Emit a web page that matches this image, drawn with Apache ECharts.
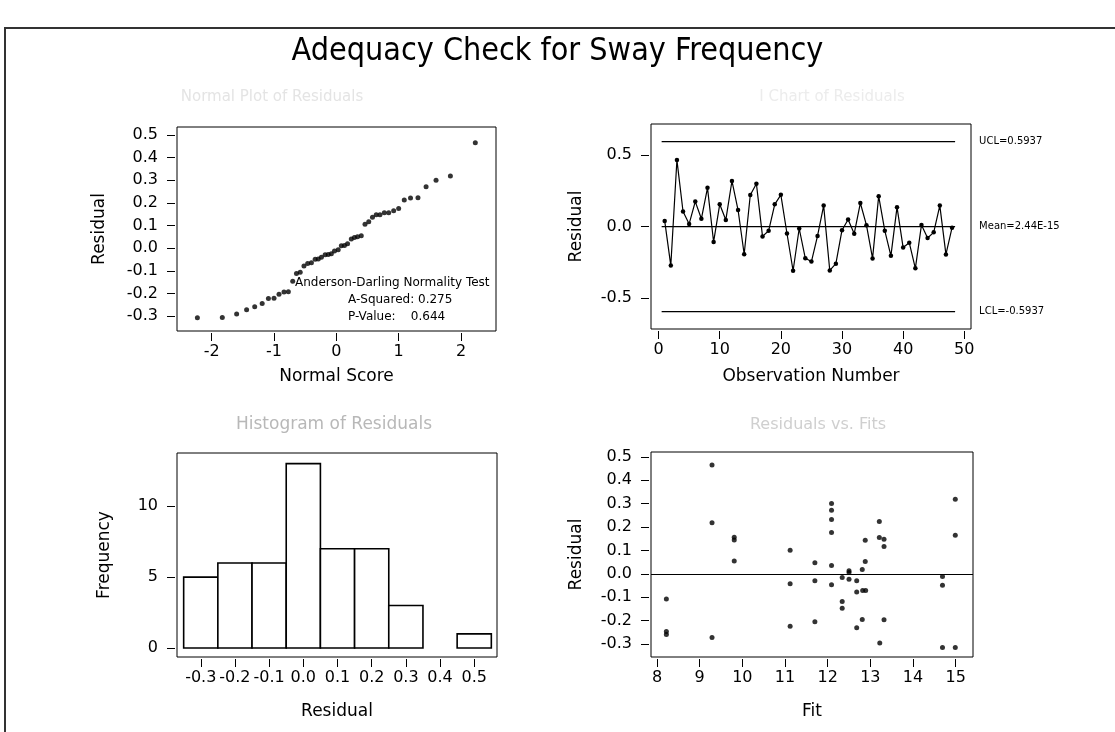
<!DOCTYPE html>
<html>
<head>
<meta charset="utf-8">
<script src="https://cdn.jsdelivr.net/npm/echarts@6/dist/echarts.min.js"></script>
<style>
html,body{margin:0;padding:0;background:#fff;}
#chart{width:1115px;height:732px;}
</style>
</head>
<body>
<div id="chart"></div>
<script>
// ---------- DATA ----------
const chartTitle = 'Adequacy Check for Sway Frequency';

// Normal probability plot
const normalScore = [-2.23,-1.83,-1.60,-1.44,-1.31,-1.19,-1.09,-1.00,-0.92,-0.84,-0.77,-0.70,-0.64,-0.58,-0.52,-0.46,-0.40,-0.34,-0.29,-0.24,-0.18,-0.13,-0.08,-0.03,
                     0.03,0.08,0.13,0.18,0.24,0.29,0.34,0.40,0.46,0.52,0.58,0.64,0.70,0.77,0.84,0.92,1.00,1.09,1.19,1.31,1.44,1.60,1.83,2.23];
const sortedResidual = [-0.308,-0.306,-0.291,-0.272,-0.259,-0.244,-0.222,-0.221,-0.204,-0.194,-0.193,-0.146,-0.112,-0.107,-0.079,-0.068,-0.065,-0.049,-0.048,-0.040,-0.029,-0.028,-0.025,-0.013,
                        -0.007,0.010,0.012,0.019,0.040,0.047,0.050,0.055,0.106,0.116,0.136,0.147,0.147,0.156,0.156,0.165,0.175,0.213,0.221,0.222,0.271,0.300,0.319,0.465];
const normalTicksX = [-2,-1,0,1,2];
const residualTicks = [-0.3,-0.2,-0.1,0.0,0.1,0.2,0.3,0.4,0.5];

// I chart of residuals (observation order)
const obsResidual = [0.040,-0.272,0.465,0.106,0.019,0.175,0.055,0.271,-0.107,0.156,0.047,0.319,0.116,-0.193,0.221,0.300,
                     -0.068,-0.029,0.156,0.222,-0.048,-0.308,-0.013,-0.221,-0.244,-0.065,0.147,-0.306,-0.259,-0.025,0.050,-0.049,
                     0.165,0.010,-0.222,0.213,-0.028,-0.204,0.136,-0.146,-0.112,-0.291,0.012,-0.079,-0.040,0.147,-0.194,-0.007];
const ucl = 0.5937, centerMean = 2.44e-15, lcl = -0.5937;
const limitSpan = [0.5, 48.5];
const obsTicksX = [0,10,20,30,40,50];
const iChartTicksY = [-0.5,0.0,0.5];

// Histogram of residuals
const binCenters = [-0.3,-0.2,-0.1,0.0,0.1,0.2,0.3,0.4,0.5];
const binCounts  = [5,6,6,13,7,7,3,0,1];
const binWidth = 0.1;
const freqTicks = [0,5,10];

// Residuals vs fits
const fitValues = [8.22,8.22,8.22, 9.29,9.29,9.29, 9.81,9.81,9.81, 11.12,11.12,11.12, 11.70,11.70,11.70,
                   12.09,12.09,12.09,12.09,12.09,12.09, 12.34,12.34,12.34, 12.50,12.50,12.50, 12.68,12.68,12.68,
                   12.81,12.81,12.82,12.89, 12.88,12.88, 13.21,13.21,13.22, 13.32,13.32,13.32,
                   14.69,14.69,14.69, 14.99,14.99,14.99];
const fitResiduals = [-0.107,-0.246,-0.259, 0.465,0.218,-0.272, 0.156,0.145,0.055, 0.101,-0.042,-0.224, 0.048,-0.030,-0.205,
                      0.301,0.272,0.232,0.177,0.036,-0.047, -0.016,-0.118,-0.147, 0.013,0.006,-0.023, -0.030,-0.078,-0.230,
                      0.019,-0.195,-0.071,-0.071, 0.144,0.053, 0.224,0.155,-0.296, 0.148,0.117,-0.196,
                      -0.011,-0.049,-0.315, 0.319,0.165,-0.315];
const fitTicksX = [8,9,10,11,12,13,14,15];

// ---------- CHART ----------
const FONT = 'DejaVu Sans';
const chart = echarts.init(document.getElementById('chart'), null, {renderer:'canvas'});

function axisBase(gridIndex, min, max, ticks, fmt, extra, labelMargin) {
  return Object.assign({
    type:'value', gridIndex, min, max, offset:2,
    axisLine:{show:false, onZero:false},
    splitLine:{show:false},
    axisTick:{show:true, length:8, customValues:ticks, lineStyle:{color:'#000', width:1}},
    axisLabel:{show:true, customValues:ticks, formatter:fmt, margin:labelMargin, color:'#000', fontSize:16, fontFamily:FONT},
    nameLocation:'middle', nameTextStyle:{color:'#000', fontSize:17, fontFamily:FONT}
  }, extra || {});
}
const f1 = v => Number(v).toFixed(1);
const f0 = v => String(Math.round(v));

const gridStyle = {show:true, borderColor:'#000', borderWidth:1, backgroundColor:'rgba(0,0,0,0)', containLabel:false, outerBoundsMode:'none'};

const option = {
  backgroundColor:'#fff',
  animation:false,
  title:{text:chartTitle, left:'center', top:31, textStyle:{fontSize:32, fontWeight:'normal', color:'#000', fontFamily:'DejaVu Sans Condensed, DejaVu Sans'}},
  grid:[
    Object.assign({left:177, top:127, width:319, height:204}, gridStyle),
    Object.assign({left:651, top:124, width:320, height:205}, gridStyle),
    Object.assign({left:177, top:453, width:320, height:204}, gridStyle),
    Object.assign({left:651, top:452, width:322, height:205}, gridStyle)
  ],
  xAxis:[
    axisBase(0, -2.557, 2.562, normalTicksX, f0, {name:'Normal Score', nameGap:35}, 11),
    axisBase(1, -1.24, 51.1, obsTicksX, f0, {name:'Observation Number', nameGap:37}, 11),
    axisBase(2, -0.3695, 0.5666, residualTicks, f1, {name:'Residual', nameGap:44}, 11),
    axisBase(3, 7.86, 15.405, fitTicksX, f0, {name:'Fit', nameGap:44}, 11)
  ],
  yAxis:[
    axisBase(0, -0.366, 0.535, residualTicks, f1, {name:'Residual', nameGap:67}, 17),
    axisBase(1, -0.715, 0.717, iChartTicksY, f1, {name:'Residual', nameGap:64}, 17),
    axisBase(2, -0.63, 13.75, freqTicks, f0, {name:'Frequency', nameGap:62}, 17),
    axisBase(3, -0.3555, 0.521, residualTicks, f1, {name:'Residual', nameGap:64}, 17)
  ],
  series:[
    {
      type:'scatter', xAxisIndex:0, yAxisIndex:0,
      data: normalScore.map((x,i)=>[x, sortedResidual[i]]),
      symbol:'circle', symbolSize:5, itemStyle:{color:'#000'}
    },
    {
      type:'line', xAxisIndex:1, yAxisIndex:1,
      data: obsResidual.map((y,i)=>[i+1, y]),
      symbol:'circle', symbolSize:4.5, showSymbol:true,
      lineStyle:{color:'#000', width:1.2}, itemStyle:{color:'#000'}
    },
    {
      type:'line', xAxisIndex:1, yAxisIndex:1, symbol:'none',
      data: limitSpan.map(x=>[x, ucl]), lineStyle:{color:'#000', width:1.2},
      endLabel:{show:true, formatter:'UCL=' + ucl, distance:24, color:'#000', fontSize:10, fontFamily:FONT}
    },
    {
      type:'line', xAxisIndex:1, yAxisIndex:1, symbol:'none',
      data: limitSpan.map(x=>[x, centerMean]), lineStyle:{color:'#000', width:1.2},
      endLabel:{show:true, formatter:'Mean=2.44E-15', distance:24, color:'#000', fontSize:10, fontFamily:FONT}
    },
    {
      type:'line', xAxisIndex:1, yAxisIndex:1, symbol:'none',
      data: limitSpan.map(x=>[x, lcl]), lineStyle:{color:'#000', width:1.2},
      endLabel:{show:true, formatter:'LCL=' + lcl, distance:24, color:'#000', fontSize:10, fontFamily:FONT}
    },
    {
      type:'custom', xAxisIndex:2, yAxisIndex:2,
      data: binCenters.map((c,i)=>[c, binCounts[i]]),
      renderItem:function(params, api){
        const c = api.value(0), n = api.value(1);
        if (!n) return null;
        const p0 = api.coord([c - binWidth/2, n]);
        const p1 = api.coord([c + binWidth/2, 0]);
        return {type:'rect', shape:{x:p0[0], y:p0[1], width:p1[0]-p0[0], height:p1[1]-p0[1]},
                style:{fill:'#fff', stroke:'#000', lineWidth:1.6}};
      }
    },
    {
      type:'scatter', xAxisIndex:3, yAxisIndex:3,
      data: fitValues.map((x,i)=>[x, fitResiduals[i]]),
      symbol:'circle', symbolSize:5, itemStyle:{color:'#000'},
      markLine:{silent:true, symbol:['none','none'], label:{show:false},
                lineStyle:{color:'#000', width:1.2, type:'solid'}, data:[{yAxis:0}]}
    }
  ],
  graphic:[
    {type:'polyline', shape:{points:[[5,740],[5,28],[1115,28]]}, style:{stroke:'#333', lineWidth:2, fill:null}},
    {type:'text', left:295, top:277, style:{text:'Anderson-Darling Normality Test', fill:'#000', font:'12px "DejaVu Sans"'}},
    {type:'text', left:348, top:294, style:{text:'A-Squared: 0.275', fill:'#000', font:'12px "DejaVu Sans"'}},
    {type:'text', left:348, top:311, style:{text:'P-Value:    0.644', fill:'#000', font:'12px "DejaVu Sans"'}},
    {type:'text', x:272, y:97, style:{text:'Normal Plot of Residuals', fill:'#e4e4e4', font:'15px "DejaVu Sans"', align:'center', verticalAlign:'middle'}},
    {type:'text', x:832, y:97, style:{text:'I Chart of Residuals', fill:'#ececec', font:'15px "DejaVu Sans"', align:'center', verticalAlign:'middle'}},
    {type:'text', x:334, y:425, style:{text:'Histogram of Residuals', fill:'#b8b8b8', font:'17px "DejaVu Sans"', align:'center', verticalAlign:'middle'}},
    {type:'text', x:818, y:425, style:{text:'Residuals vs. Fits', fill:'#cfcfcf', font:'16px "DejaVu Sans"', align:'center', verticalAlign:'middle'}}
  ]
};
chart.setOption(option);
</script>
</body>
</html>
